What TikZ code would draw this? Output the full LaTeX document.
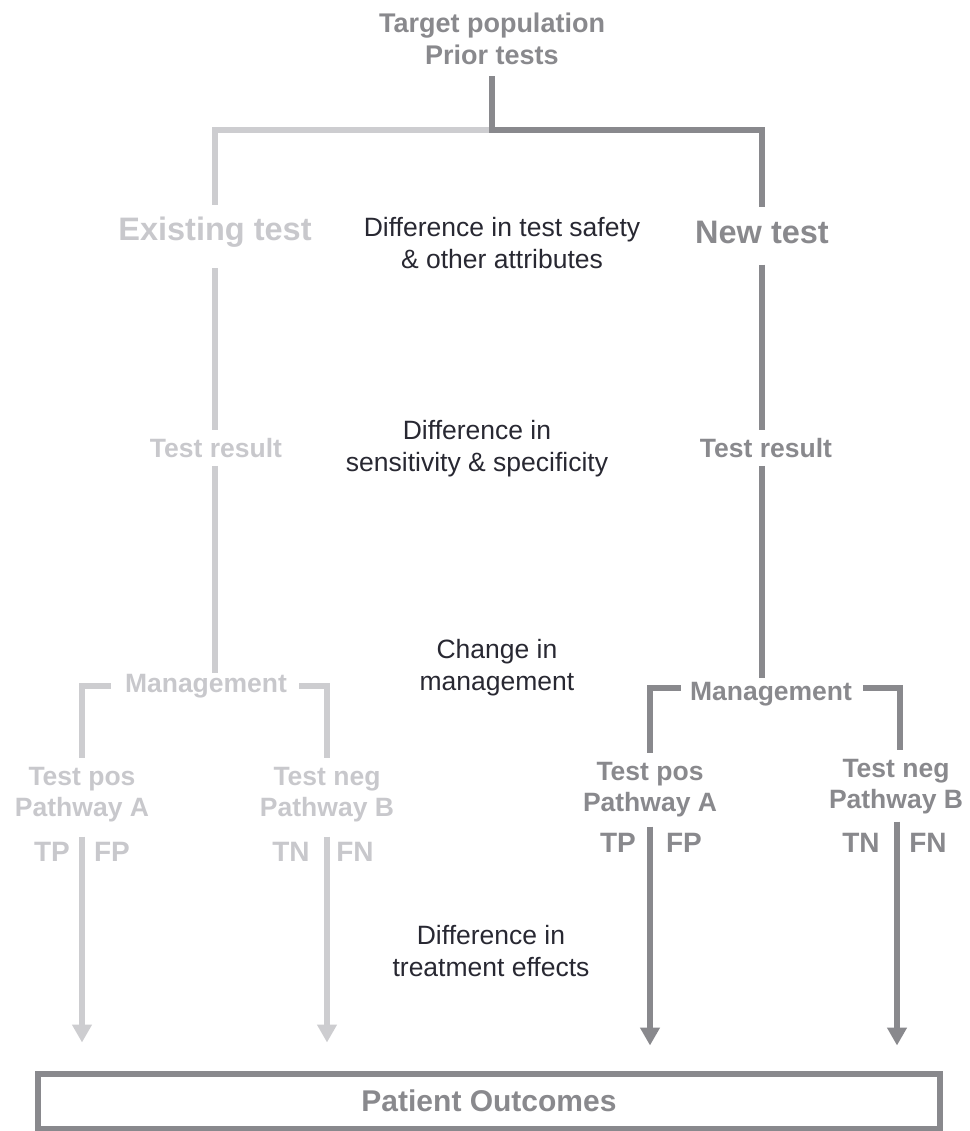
\documentclass[tikz,border=0pt]{standalone}
\usepackage{fontspec}
\setmainfont{Liberation Sans}
\usetikzlibrary{arrows.meta}
\definecolor{lightgr}{RGB}{205,205,208}
\definecolor{lighttx}{RGB}{200,200,204}
\definecolor{darkgr}{RGB}{137,137,141}
\definecolor{ink}{RGB}{40,40,50}
\tikzset{
  lbl/.style={inner sep=0pt, align=center, font=\bfseries\fontsize{26.5}{31}\selectfont},
  big/.style={inner sep=0pt, font=\bfseries\fontsize{32.5}{38}\selectfont},
  note/.style={inner sep=0pt, align=center, text=ink, font=\fontsize{26.5}{32}\selectfont},
  cls/.style={inner sep=0pt, font=\bfseries\fontsize{28}{32}\selectfont},
  lightln/.style={draw=lightgr, line width=5.5pt},
  darkln/.style={draw=darkgr, line width=5.5pt},
  tip/.style={-{Triangle[width=19pt,length=18pt]}},
}
\begin{document}
\begin{tikzpicture}[x=1pt,y=-1pt]
\useasboundingbox (0,0) rectangle (969,1131);

% ---- texts ----
\node[lbl, text=darkgr, font=\bfseries\fontsize{27}{32}\selectfont] (top) at (492,39) {Target population\\Prior tests};

\node[big, text=lighttx] (exist) at (215,232) {Existing test};
\node[big, text=darkgr] (newt) at (762,232) {New test};
\node[note] (d1) at (502,243) {Difference in test safety\\\& other attributes};

\node[lbl, text=lighttx] (tr1) at (216,448) {Test result};
\node[lbl, text=darkgr] (tr2) at (766,448) {Test result};
\node[note] (d2) at (477,449) {Difference in\\sensitivity \& specificity};

\node[lbl, text=lighttx] (m1) at (206,686) {Management};
\node[lbl, text=darkgr] (m2) at (771,694) {Management};
\node[note] (d3) at (497,668) {Change in\\management};

\node[lbl, text=lighttx] (p1) at (82,795) {Test pos\\Pathway A};
\node[lbl, text=lighttx] (n1) at (327,795) {Test neg\\Pathway B};
\node[lbl, text=darkgr] (p2) at (650,790) {Test pos\\Pathway A};
\node[lbl, text=darkgr] (n2) at (896,787) {Test neg\\Pathway B};

\node[cls, text=lighttx] (tp1) at (52,852) {TP};
\node[cls, text=lighttx] (fp1) at (112,852) {FP};
\node[cls, text=lighttx] (tn1) at (291,852) {TN};
\node[cls, text=lighttx] (fn1) at (355,852) {FN};
\node[cls, text=darkgr] (tp2) at (618,843) {TP};
\node[cls, text=darkgr] (fp2) at (684,843) {FP};
\node[cls, text=darkgr] (tn2) at (861,843) {TN};
\node[cls, text=darkgr] (fn2) at (928,843) {FN};

\node[note] (d4) at (491,951) {Difference in\\treatment effects};

\node[draw=darkgr, line width=6pt, minimum width=902pt, minimum height=55pt,
      inner sep=0pt, text=darkgr, font=\bfseries\fontsize{30}{36}\selectfont]
      (out) at (489,1101) {Patient Outcomes};

% ---- split below the target population ----
\coordinate (split) at (492,130);
\draw[lightln, shorten <=12pt] (exist.north) |- (split);
\draw[darkln, shorten <=11pt, shorten >=13pt] (top.south) -- (split) -| (newt.north);

% ---- existing test column ----
\draw[lightln, shorten <=21pt, shorten >=8pt] (exist.south) -- (exist.south |- tr1.north);
\draw[lightln, shorten <=8pt, shorten >=1pt] (exist.south |- tr1.south) -- (exist.south |- m1.north);
\draw[lightln, shorten <=14pt, shorten >=9pt] (m1.west) -| (p1.north);
\draw[lightln, shorten <=12pt, shorten >=9pt] (m1.east) -| (n1.north);
\draw[lightln, tip, shorten <=14pt, shorten >=28pt] (p1.south) -- (p1.south |- out.north);
\draw[lightln, tip, shorten <=14pt, shorten >=28pt] (n1.south) -- (n1.south |- out.north);

% ---- new test column ----
\draw[darkln, shorten <=21pt, shorten >=8pt] (newt.south) -- (newt.south |- tr2.north);
\draw[darkln, shorten <=8pt, shorten >=4pt] (newt.south |- tr2.south) -- (newt.south |- m2.north);
\draw[darkln, shorten <=9pt, shorten >=9pt] ([yshift=6pt]m2.west) -| (p2.north);
\draw[darkln, shorten <=11pt, shorten >=9pt] ([yshift=6pt]m2.east) -| ([xshift=4pt]n2.north);
\draw[darkln, tip, shorten <=9pt, shorten >=25pt] (p2.south) -- (p2.south |- out.north);
\draw[darkln, tip, shorten <=7pt, shorten >=25pt] ([xshift=1pt]n2.south) -- ([xshift=1pt]n2.south |- out.north);
\end{tikzpicture}
\end{document}
